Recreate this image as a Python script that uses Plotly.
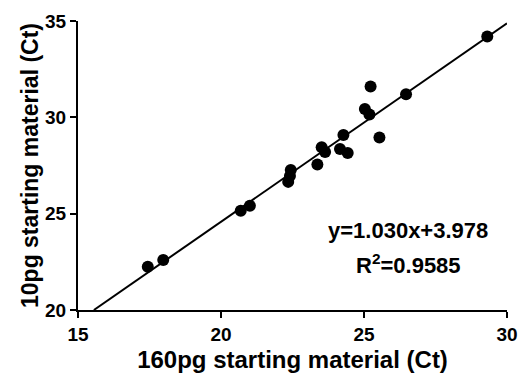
import plotly.graph_objects as go

x_ct_160pg = [17.44, 17.98, 20.69, 21.01, 22.35, 22.41, 22.44, 23.37, 23.52, 23.64,
              24.16, 24.28, 24.43, 25.03, 25.19, 25.23, 25.54, 26.47, 29.31]
y_ct_10pg = [22.25, 22.6, 25.15, 25.41, 26.65, 26.95, 27.27, 27.55, 28.45, 28.2,
             28.36, 29.08, 28.15, 30.43, 30.15, 31.6, 28.95, 31.2, 34.2]
slope = 1.030
intercept = 3.978
x_range = [15, 30]
y_range = [20, 35]
tick_vals_x = [15, 20, 25, 30]
tick_vals_y = [20, 25, 30, 35]
eq_text = "y=1.030x+3.978"
r2_text = "R<sup>2</sup>=0.9585"

x_start = (y_range[0] - intercept) / slope
x_end = x_range[1]
line_x = [x_start, x_end]
line_y = [slope * v + intercept for v in line_x]

font_family = "Liberation Sans, Arial, sans-serif"

fig = go.Figure()
fig.add_trace(go.Scatter(x=line_x, y=line_y, mode="lines",
                         line=dict(color="black", width=2), showlegend=False,
                         cliponaxis=False))
fig.add_trace(go.Scatter(x=x_ct_160pg, y=y_ct_10pg, mode="markers",
                         marker=dict(color="black", size=12), showlegend=False,
                         cliponaxis=False))

axis_common = dict(showgrid=False, zeroline=False, showline=True, linecolor="black",
                   linewidth=2, ticks="outside", ticklen=6, tickwidth=2, tickcolor="black",
                   automargin=False,
                   tickfont=dict(family=font_family, size=19, color="black", weight="bold"))

fig.update_xaxes(range=x_range, tickvals=tick_vals_x, **axis_common,
                 title=dict(text="160pg starting material (Ct)", standoff=7,
                            font=dict(family=font_family, size=24, color="black", weight="bold")))
fig.update_yaxes(range=y_range, tickvals=tick_vals_y, **axis_common,
                 title=dict(text="10pg starting material (Ct)", standoff=0,
                            font=dict(family=font_family, size=23, color="black", weight="bold")))

fig.add_annotation(x=26.54, y=24.15, text=eq_text, showarrow=False,
                   font=dict(family=font_family, size=22, color="black", weight="bold"))
fig.add_annotation(x=26.54, y=22.4, text=r2_text, showarrow=False,
                   font=dict(family=font_family, size=22, color="black", weight="bold"))

fig.update_layout(width=525, height=377, margin=dict(l=78, r=18, t=21, b=67),
                  plot_bgcolor="white", paper_bgcolor="white")

fig.write_html("out.html", config={"displayModeBar": False},
               post_script="document.body.style.margin='0';")
